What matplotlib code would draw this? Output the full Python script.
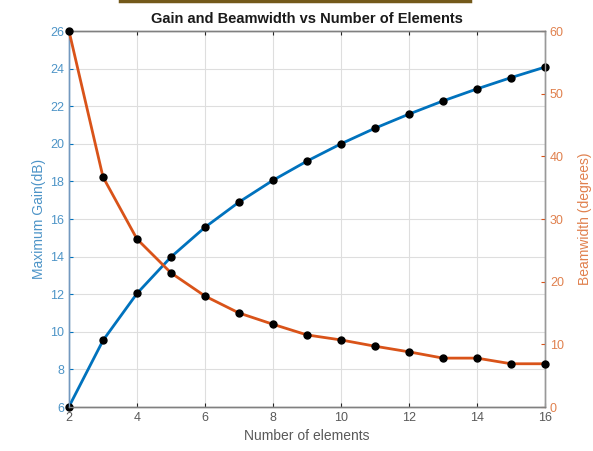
import matplotlib
matplotlib.use("Agg")
import matplotlib.pyplot as plt
from matplotlib.lines import Line2D

plt.rcParams['font.family'] = ['Liberation Sans', 'DejaVu Sans']

elements = [2, 3, 4, 5, 6, 7, 8, 9, 10, 11, 12, 13, 14, 15, 16]
gain_db = [6.02, 9.54, 12.04, 13.98, 15.56, 16.9, 18.06, 19.08, 20.0, 20.83,
           21.58, 22.28, 22.92, 23.52, 24.08]
beamwidth = [60.0, 36.7, 26.8, 21.4, 17.7, 15.0, 13.2, 11.5, 10.7, 9.7,
             8.8, 7.8, 7.8, 6.9, 6.9]
x_ticks = [2, 4, 6, 8, 10, 12, 14, 16]
left_ticks = [6, 8, 10, 12, 14, 16, 18, 20, 22, 24, 26]
right_ticks = [0, 10, 20, 30, 40, 50, 60]

blue = (0.0, 0.447, 0.741)
orange = (0.85, 0.325, 0.098)
blue_txt = (0.3, 0.58, 0.78)
orange_txt = (0.88, 0.5, 0.3)
axgray = (0.15, 0.15, 0.15)

fig = plt.figure(figsize=(5.93, 4.51), dpi=100)
ax = fig.add_axes([69/593, 1-407/451, (545-69)/593, (407-31)/451])
ax2 = ax.twinx()

ax.plot(elements, gain_db, color=blue, lw=2.0, marker='o', ms=5,
        mfc='black', mec='black', zorder=3, clip_on=False)
ax2.plot(elements, beamwidth, color=orange, lw=2.0, marker='o', ms=5,
         mfc='black', mec='black', zorder=3, clip_on=False)

ax.set_xlim(2, 16)
ax.set_ylim(6, 26)
ax2.set_ylim(0, 60)
ax.set_xticks(x_ticks)
ax.set_yticks(left_ticks)
ax2.set_yticks(right_ticks)

ax.grid(True, color=(0.87, 0.87, 0.87), lw=0.8)
ax.set_axisbelow(True)

for a in (ax, ax2):
    a.tick_params(direction='in', length=3, width=0.8, labelsize=9, top=True)
ax.tick_params(axis='x', colors=axgray, labelcolor=(0.35, 0.35, 0.35))
ax.tick_params(axis='y', colors=blue, labelcolor=blue_txt)
ax2.tick_params(axis='y', colors=orange, labelcolor=orange_txt)

for a in (ax, ax2):
    a.spines['top'].set_color((0.5, 0.5, 0.5))
    a.spines['bottom'].set_color((0.5, 0.5, 0.5))
    a.spines['left'].set_color((0.45, 0.6, 0.75))
    a.spines['right'].set_color((0.6, 0.6, 0.6))
    for s in a.spines.values():
        s.set_linewidth(1.0)

ax.set_xlabel('Number of elements', fontsize=10, color=(0.35, 0.35, 0.35), labelpad=4)
ax.set_ylabel('Maximum Gain(dB)', fontsize=10, color=blue_txt, labelpad=3)
ax2.set_ylabel('Beamwidth (degrees)', fontsize=10, color=orange_txt, labelpad=10)
ax.set_title('Gain and Beamwidth vs Number of Elements', fontsize=10.5,
             fontweight='bold', color=(0.1, 0.1, 0.1), pad=6)

fig.add_artist(Line2D([120/593, 470/593], [1-1/451, 1-1/451], color=(0.45, 0.35, 0.1), lw=2.5))

fig.savefig('out.png', dpi=100)
